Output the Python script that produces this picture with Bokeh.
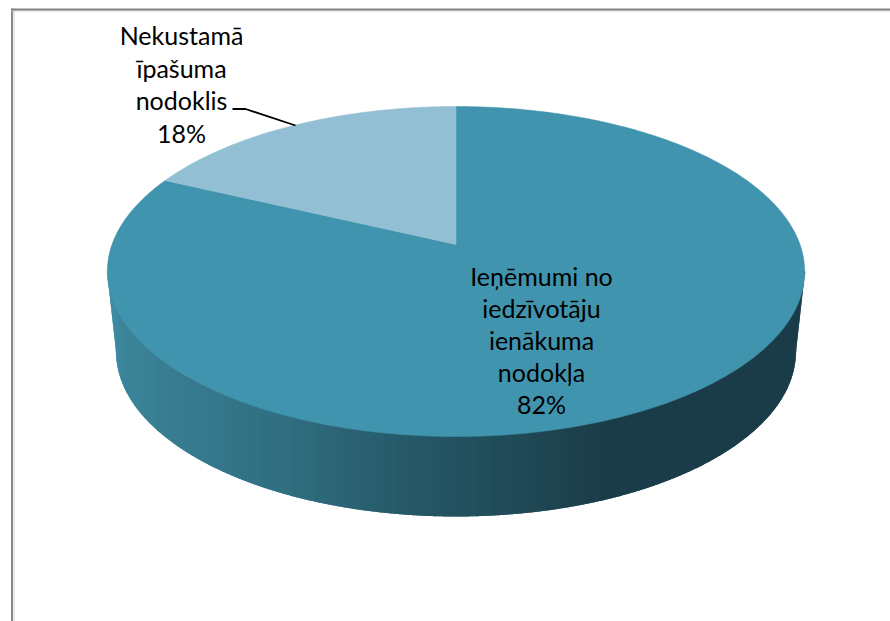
import numpy as np
from bokeh.embed import file_html
from bokeh.models import Range1d
from bokeh.plotting import figure
from bokeh.resources import INLINE

# data
categories = ["Ieņēmumi no iedzīvotāju ienākuma nodokļa", "Nekustamā īpašuma nodoklis"]
values = [82, 18]
label_lines = [["Ieņēmumi no", "iedzīvotāju", "ienākuma", "nodokļa"], ["Nekustamā", "īpašuma", "nodoklis"]]
slice_colors = ["#4094AE", "#92BFD3"]

# side gradient stops (x pixel, colour)
grad_x = [107, 123, 290, 423, 513, 610, 805]
grad_rgb = [(64, 143, 167), (60, 132, 153), (48, 110, 128), (37, 87, 102), (33, 75, 88), (27, 60, 72), (27, 60, 72)]

W, H = 890, 621
p = figure(width=W, height=H, output_backend="svg", toolbar_location=None,
           x_range=Range1d(0, 890), y_range=Range1d(621, 0),
           x_axis_location=None, y_axis_location=None, min_border=0)
p.grid.visible = False
p.outline_line_color = None
p.background_fill_color = "white"
p.border_fill_color = "white"

# frame
p.line([13.5, 13.5], [9, 621], line_color="#d4d4d4", line_width=1)
p.line([11.5, 11.5], [8, 621], line_color="#8a8a8a", line_width=2)
p.line([11, 890], [10.5, 10.5], line_color="#d4d4d4", line_width=1)
p.line([11, 890], [9, 9], line_color="#808080", line_width=2)

# perspective disc
CX, CY, R, S, K = 455.5, 244.0, 344.0, 160.6, -0.1636
TOP_CY, TOP_RX, TOP_RY = 271.0, 349.0, 165.0
BOT_CY, BOT_RX, BOT_RY = 351.0, 340.0, 165.0


def project(fr):
    a = 2 * np.pi * np.asarray(fr, dtype=float)
    u, v = np.sin(a), -np.cos(a)
    w = 1 + K * v
    return CX + R * u / w, CY + S * v / w


def bottom_edge(x):
    x = np.asarray(x, dtype=float)
    t = np.clip(1 - ((x - CX) / BOT_RX) ** 2, 0, None)
    y = BOT_CY + BOT_RY * np.sqrt(t)
    left = x < CX - BOT_RX
    right = x > CX + BOT_RX
    y = np.where(left, TOP_CY + (x - (CX - TOP_RX)) / (TOP_RX - BOT_RX) * (BOT_CY - TOP_CY), y)
    y = np.where(right, TOP_CY + ((CX + TOP_RX) - x) / (TOP_RX - BOT_RX) * (BOT_CY - TOP_CY), y)
    return np.maximum(y, TOP_CY)


# side wall as thin gradient strips, each overlapping the previous one so no white shows through
edges = np.arange(107, 805, 1)
r = np.interp(edges, grad_x, [c[0] for c in grad_rgb])
g = np.interp(edges, grad_x, [c[1] for c in grad_rgb])
b = np.interp(edges, grad_x, [c[2] for c in grad_rgb])
xs, ys, cols = [], [], []
for i in range(len(edges) - 1):
    x0, x1 = float(edges[i]), float(edges[i + 1])
    xs.append([x0, x1 + 1, x1 + 1, x1, x0])
    ys.append([TOP_CY, TOP_CY, float(bottom_edge(x1 + 1)), float(bottom_edge(x1)), float(bottom_edge(x0))])
    cols.append("#%02x%02x%02x" % (int(r[i]), int(g[i]), int(b[i])))
p.patches(xs, ys, fill_color=cols, line_color=None)

# top face slices from the values
total = sum(values)
start = 0.0
for val, col in zip(values, slice_colors):
    end = start + val / total
    n = max(int(val * 6), 12)
    fr = np.linspace(start, end, n)
    px, py = project(fr)
    p.patch([CX, *px], [CY, *py], fill_color=col, line_color=col, line_width=0.5)
    start = end

# leader line
p.line([232, 245, 295], [108.5, 108.5, 125], line_color="black", line_width=1.8)

# labels
FONT = "Lato"
anchors = [(541, 275), (181, 34.5)]
steps = [32, 32.5]
for lines, val, (ax, ay), st in zip(label_lines, values, anchors, steps):
    all_lines = lines + [f"{val}%"]
    p.text([ax] * len(all_lines), [ay + st * i for i in range(len(all_lines))], text=all_lines,
           text_align="center", text_baseline="middle", text_font_size="25px",
           text_color="black", text_font={"value": FONT})

open("out.html", "w").write(file_html(p, INLINE))
